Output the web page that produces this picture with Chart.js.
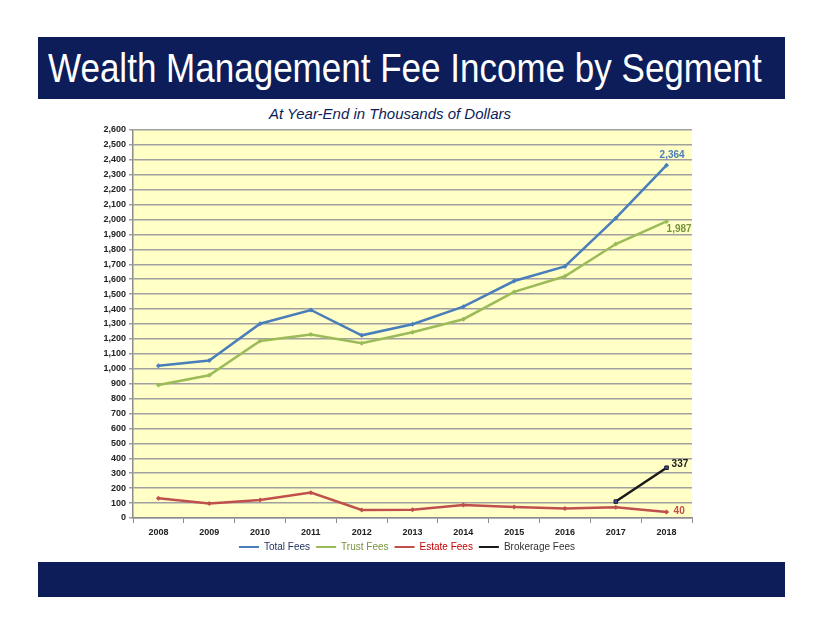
<!DOCTYPE html>
<html>
<head>
<meta charset="utf-8">
<script src="https://cdn.jsdelivr.net/npm/chart.js@4.4.1/dist/chart.umd.min.js"></script>
<style>
  body { margin: 0; background: #fff; width: 822px; height: 635px; position: relative; overflow: hidden; }
  .banner { position: absolute; left: 38px; width: 747px; background: #0c1d5a; }
  #top { top: 37px; height: 62px; overflow: hidden; }
  #bottom { top: 562px; height: 35px; }
  #title { position: absolute; left: 10px; top: 0; color: #fff; font-family: "Liberation Sans", Arial, sans-serif;
           font-size: 41px; line-height: 62px; white-space: nowrap; transform-origin: 0 50%; }
  #sub { position: absolute; left: 190px; width: 400px; top: 105px; text-align: center; color: #0c1d5a;
         font-family: "Liberation Sans", Arial, sans-serif; font-style: italic; font-size: 15px; }
  #wrap { position: absolute; left: 38px; top: 100px; width: 747px; height: 462px; }
</style>
</head>
<body>
<div class="banner" id="top"><span id="title">Wealth Management Fee Income by Segment</span></div>
<div id="sub">At Year-End in Thousands of Dollars</div>
<div id="wrap"><canvas id="feeChart" width="747" height="462"></canvas></div>
<div class="banner" id="bottom"></div>
<script>
// years and fee income (thousands of dollars)
const years = ['2008','2009','2010','2011','2012','2013','2014','2015','2016','2017','2018'];
const totalFees = [1020, 1055, 1302, 1394, 1224, 1298, 1416, 1588, 1686, 2009, 2364];
const trustFees = [891, 956, 1186, 1229, 1171, 1245, 1332, 1515, 1620, 1836, 1987];
const estateFees = [132, 98, 121, 170, 54, 56, 87, 74, 63, 72, 40];
const brokerageFees = [null, null, null, null, null, null, null, null, null, 110, 337];

const blue = '#4a7ebb';
const green = '#9bbb59';
const red = '#c0504d';
const black = '#1a1a1a';

// squeeze the banner title to the width it has in the slide
const t = document.getElementById('title');
t.style.transform = 'scaleX(' + (714 / t.offsetWidth) + ')';

// yellow plot background
const plotBg = {
  id: 'plotBg',
  beforeDraw(chart) {
    const a = chart.chartArea, c = chart.ctx;
    c.save();
    c.fillStyle = '#ffffc6';
    c.fillRect(a.left, a.top, a.right - a.left, a.bottom - a.top);
    c.restore();
  }
};

// legend sits centred under the plot area, not the whole canvas
const legendShift = {
  id: 'legendShift',
  afterLayout(chart) {
    const lg = chart.legend;
    lg.left += 42; lg.right += 42;
    lg.top -= 4; lg.bottom -= 4;
  }
};

// value labels at the last point of each series
const endLabels = {
  id: 'endLabels',
  afterDatasetsDraw(chart) {
    const c = chart.ctx;
    const xs = chart.scales.x, ys = chart.scales.y;
    const specs = [
      { ds: 0, color: blue, dx: -7, dy: -10 },
      { ds: 1, color: '#77933c', dx: 0, dy: 8 },
      { ds: 2, color: red, dx: 7, dy: -1 },
      { ds: 3, color: black, dx: 5, dy: -3 }
    ];
    c.save();
    c.font = 'bold 10px "Liberation Sans", Arial, sans-serif';
    c.textBaseline = 'middle';
    c.textAlign = 'left';
    specs.forEach(s => {
      const data = chart.data.datasets[s.ds].data;
      const i = data.length - 1;
      const x = xs.getPixelForValue(i);
      const y = ys.getPixelForValue(data[i]);
      c.fillStyle = s.color;
      c.fillText(data[i].toLocaleString('en-US'), x + s.dx, y + s.dy);
    });
    c.restore();
  }
};

const legendColors = ['#1f2d5c', '#77933c', '#c00000', '#333333'];

new Chart(document.getElementById('feeChart'), {
  type: 'line',
  data: {
    labels: years,
    datasets: [
      { label: 'Total Fees', data: totalFees, borderColor: blue, backgroundColor: blue },
      { label: 'Trust Fees', data: trustFees, borderColor: green, backgroundColor: green },
      { label: 'Estate Fees', data: estateFees, borderColor: red, backgroundColor: red },
      { label: 'Brokerage Fees', data: brokerageFees, borderColor: black, backgroundColor: '#3b4ea0',
        pointStyle: 'rect', pointRadius: 2.5, pointBorderColor: black, pointBorderWidth: 1 }
    ]
  },
  options: {
    responsive: false,
    animation: false,
    devicePixelRatio: 1,
    layout: { padding: { left: 0, right: 93, top: 30, bottom: -4 } },
    elements: {
      line: { borderWidth: 2.5, tension: 0 },
      point: { pointStyle: 'rectRot', radius: 2.5, borderWidth: 0 }
    },
    scales: {
      x: {
        offset: true,
        grid: { display: true, drawOnChartArea: false, offset: true, color: '#8c8c8c', tickLength: 5 },
        border: { color: '#8c8c8c', width: 1.5 },
        ticks: { color: '#222', maxRotation: 0, font: { family: '"Liberation Sans", Arial, sans-serif', size: 9, weight: 'bold' }, padding: 4 },
        afterFit(s) { s.height = 22; }
      },
      y: {
        min: 0, max: 2600,
        grid: { color: '#a0a0a0', lineWidth: 1.5, tickLength: 4 },
        border: { color: '#8c8c8c', width: 1.5 },
        ticks: { stepSize: 100, autoSkip: false, color: '#222',
                 font: { family: '"Liberation Sans", Arial, sans-serif', size: 9, weight: 'bold' }, padding: 3,
                 callback: v => v.toLocaleString('en-US') },
        afterFit(s) { s.width = 95; }
      }
    },
    plugins: {
      legend: {
        position: 'bottom',
        labels: {
          boxWidth: 20, boxHeight: 2, padding: 6,
          font: { family: '"Liberation Sans", Arial, sans-serif', size: 10 },
          generateLabels(chart) {
            const items = Chart.defaults.plugins.legend.labels.generateLabels(chart);
            items.forEach((it, i) => {
              it.fontColor = legendColors[i];
              it.fillStyle = it.strokeStyle;
              it.lineWidth = 0;
            });
            return items;
          }
        }
      },
      tooltip: { enabled: false }
    }
  },
  plugins: [plotBg, legendShift, endLabels]
});
</script>
</body>
</html>
